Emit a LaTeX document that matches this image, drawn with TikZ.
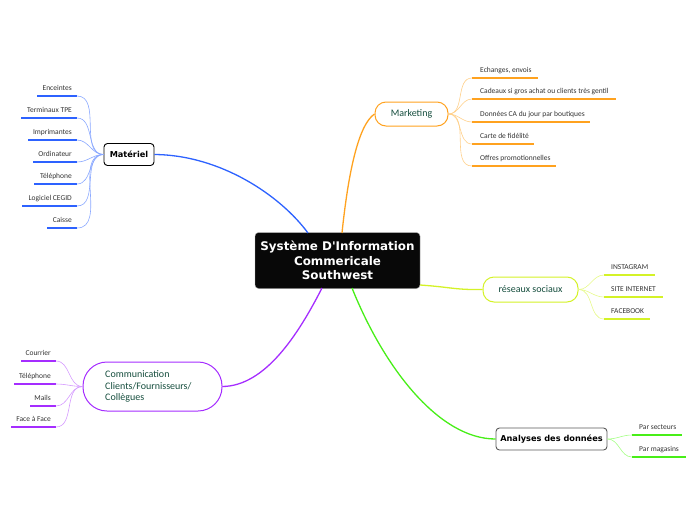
\documentclass[tikz,border=0pt]{standalone}
\usepackage{fontspec}
\setmainfont{Carlito}
\newfontfamily\boldsans{DejaVu Sans}
\definecolor{bblue}{HTML}{2D62FF}
\definecolor{lblue}{HTML}{8AA8FF}
\definecolor{borange}{HTML}{FFA21F}
\definecolor{lorange}{HTML}{FFD08A}
\definecolor{byg}{HTML}{D4F227}
\definecolor{lyg}{HTML}{E6F98A}
\definecolor{bgreen}{HTML}{48EE18}
\definecolor{lgreen}{HTML}{A5FF85}
\definecolor{bpurple}{HTML}{A52DFF}
\definecolor{lpurple}{HTML}{D59BFF}
\definecolor{dgreen}{HTML}{164E3E}
\definecolor{leafgray}{HTML}{333333}
\begin{document}
\begin{tikzpicture}[x=1pt,y=-1pt,
  leaf/.style={font=\fontsize{7.5}{9}\selectfont, text=leafgray, inner sep=0pt},
  ul/.style={line width=1.6pt},
  twig/.style={line width=0.6pt},
  branch/.style={line width=1.3pt},
  pill/.style={draw, line width=1pt, fill=white, rounded corners=11pt, text=dgreen,
    font=\fontsize{10}{12}\selectfont, inner sep=0pt},
  boxnode/.style={draw, line width=0.9pt, fill=white, rounded corners=3.5pt,
    font=\boldsans\bfseries\fontsize{8.2}{10}\selectfont, inner sep=0pt}
]
\useasboundingbox (0,0) rectangle (696,520);

% central
\node[fill=black!97, draw=black!30, line width=0.4pt, rounded corners=3.5pt, text=white,
  minimum width=165pt, minimum height=56pt, inner sep=0pt, align=center,
  font=\boldsans\bfseries\fontsize{11.9}{14.5}\selectfont] (c) at (337.5,260.5)
  {Système D'Information\\Commericale\\ Southwest};
\coordinate (cb) at (308,233);
\coordinate (co) at (342,233);
\coordinate (cy) at (420,285);
\coordinate (cp) at (322,288);
\coordinate (cg) at (352,288);

% branch nodes
\node[pill, draw=borange, minimum width=73pt, minimum height=24pt] (mk) at (411.5,114) {Marketing};
\node[boxnode, draw=black, minimum width=50pt, minimum height=22pt] (mat) at (129,154.5) {Matériel};
\node[pill, draw=byg, minimum width=95pt, minimum height=25pt] (rs) at (530.5,289.5) {réseaux sociaux};
\node[pill, draw=bpurple, minimum width=139pt, minimum height=49pt, rounded corners=24pt] (com) at (152.5,386.5) {};
\node[anchor=west, align=left, text=dgreen, inner sep=0pt, font=\fontsize{10}{11.7}\selectfont] (comt) at (105,386.5)
  {Communication\\Clients/Fournisseurs/\\Collègues};
\node[boxnode, draw=black!65, minimum width=111pt, minimum height=22pt] (an) at (551.5,439) {Analyses des données};

% main branches
\draw[branch, bblue] (mat.east) .. controls (220,155) and (280,195) .. (cb);
\draw[branch, borange] (co) .. controls (348,175) and (358,125) .. (mk.west);
\draw[branch, byg] (cy) .. controls (450,287) and (455,290) .. (rs.west);
\draw[branch, bpurple] (cp) .. controls (298,335) and (265,386) .. (com.east);
\draw[branch, bgreen] (cg) .. controls (385,370) and (440,439) .. (an.west);

% Marketing leaves
\foreach \n/\y/\e/\t in {m1/78/538/{Echanges, envois}, m2/99/616/{Cadeaux si gros achat ou clients très gentil},
  m3/122/590/{Données CA du jour par boutiques}, m4/144/534/{Carte de fidélité}, m5/166/556/{Offres promotionnelles}}{
  \coordinate (\n a) at (472,\y);
  \coordinate (\n b) at (\e,\y);
  \node[leaf, anchor=base west] (\n) at (480,\y-5.5) {\t};
  \draw[ul, borange] (\n a) -- (\n b);
  \draw[twig, lorange] (mk.east) to[out=0,in=180] (\n a);
}

% Materiel leaves
\foreach \n/\y/\s/\t in {p1/96/37/{Enceintes}, p2/118/21/{Terminaux TPE}, p3/140/28/{Imprimantes},
  p4/162/33/{Ordinateur}, p5/184/34/{Téléphone}, p6/206/22/{Logiciel CEGID}, p7/228/47/{Caisse}}{
  \coordinate (\n a) at (77,\y);
  \coordinate (\n b) at (\s,\y);
  \node[leaf, anchor=base east] (\n) at (72,\y-5.5) {\t};
  \draw[ul, bblue] (\n b) -- (\n a);
  \draw[twig, lblue] (mat.west) to[out=180,in=0] (\n a);
}

% reseaux leaves
\foreach \n/\y/\e/\t in {r1/275/655/{INSTAGRAM}, r2/297/663/{SITE INTERNET}, r3/319/650/{FACEBOOK}}{
  \coordinate (\n a) at (604,\y);
  \coordinate (\n b) at (\e,\y);
  \node[leaf, anchor=base west] (\n) at (611,\y-5.5) {\t};
  \draw[ul, byg] (\n a) -- (\n b);
  \draw[twig, lyg] (rs.east) to[out=0,in=180] (\n a);
}

% Communication leaves
\foreach \n/\y/\s/\t in {k1/361/21/{Courrier}, k2/384/14/{Téléphone}, k3/406/30/{Mails}, k4/427/11/{Face à Face}}{
  \coordinate (\n a) at (56,\y);
  \coordinate (\n b) at (\s,\y);
  \node[leaf, anchor=base east] (\n) at (51,\y-5.5) {\t};
  \draw[ul, bpurple] (\n b) -- (\n a);
  \draw[twig, lpurple] (com.west) to[out=180,in=0] (\n a);
}

% Analyses leaves
\foreach \n/\y/\e/\t in {g1/435/682/{Par secteurs}, g2/457/686/{Par magasins}}{
  \coordinate (\n a) at (632,\y);
  \coordinate (\n b) at (\e,\y);
  \node[leaf, anchor=base west] (\n) at (639,\y-5.5) {\t};
  \draw[ul, bgreen] (\n a) -- (\n b);
  \draw[twig, lgreen] (an.east) to[out=0,in=180] (\n a);
}
\end{tikzpicture}
\end{document}
